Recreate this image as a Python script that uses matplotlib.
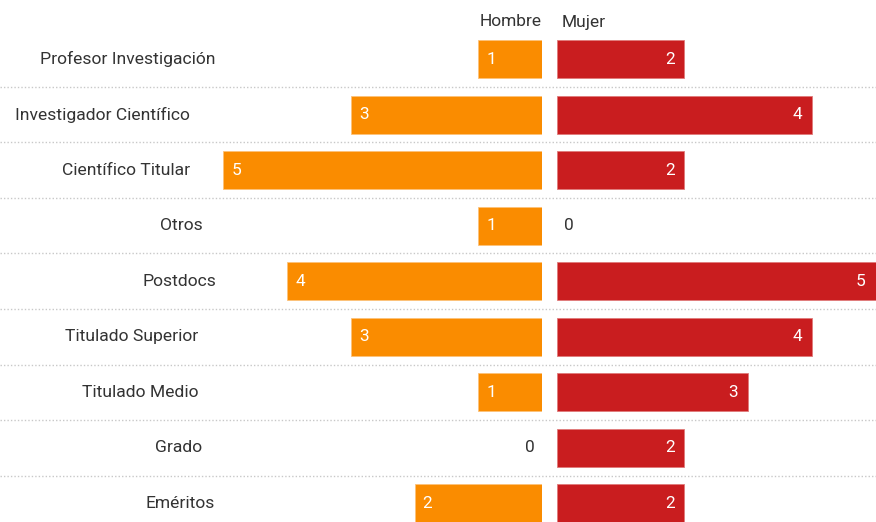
import matplotlib
matplotlib.use('Agg')
import matplotlib.pyplot as plt

# datos
categorias = ["Profesor Investigación", "Investigador Científico", "Científico Titular",
              "Otros", "Postdocs", "Titulado Superior", "Titulado Medio", "Grado", "Eméritos"]
hombres = [1, 3, 5, 1, 4, 3, 1, 0, 2]
mujeres = [2, 4, 2, 0, 5, 4, 3, 2, 2]

# centro horizontal (px) de cada etiqueta, como en el original
label_x = [128, 102, 126, 181, 179, 132, 140, 179, 180]

plt.rcParams['font.family'] = ['Roboto', 'DejaVu Sans']
NARANJA = '#fa8c00'
ROJO = '#c91d1f'
TEXTO = '#333333'

W, H = 876, 522
fig = plt.figure(figsize=(W / 100, H / 100), dpi=100)

PX = 63.7          # px por unidad
top_px = 31.25
ylim = ((H - 59.5) / 55.5, -0.5)
ax_b = (0, 1 - top_px / H)
n = len(categorias)

# fondo: separadores y etiquetas
bg = fig.add_axes([0, ax_b[0], 1, ax_b[1]])
bg.set_xlim(0, W)
bg.set_ylim(*ylim)
bg.axis('off')
for i in range(n - 1):
    bg.axhline(i + 0.5, color='#c8c8c8', lw=1, ls=(0, (1, 1.5)))
for i, cat in enumerate(categorias):
    bg.text(label_x[i], i, cat, ha='center', va='center', fontsize=12.6, color=TEXTO)

# eje izquierdo (hombres)
left_w = 542
axl = fig.add_axes([0, ax_b[0], left_w / W, ax_b[1]])
axl.set_xlim(left_w / PX, 0)
axl.set_ylim(*ylim)
axl.axis('off')
for i, v in enumerate(hombres):
    if v > 0:
        axl.barh(i, v, height=0.685, color=NARANJA, edgecolor='#fcc27a', linewidth=0.6)
        axl.text(v - 8 / PX, i, str(v), ha='left', va='center', color='white', fontsize=12.4)
    else:
        axl.text(7 / PX, i, str(v), ha='right', va='center', color=TEXTO, fontsize=12.4)

# eje derecho (mujeres)
rx = 557
axr = fig.add_axes([rx / W, ax_b[0], (W - rx) / W, ax_b[1]])
axr.set_xlim(0, (W - rx) / PX)
axr.set_ylim(*ylim)
axr.axis('off')
for i, v in enumerate(mujeres):
    if v > 0:
        axr.barh(i, v, height=0.685, color=ROJO, edgecolor='#e07a7a', linewidth=0.6)
        axr.text(v - 10 / PX, i, str(v), ha='right', va='center', color='white', fontsize=12.4)
    else:
        axr.text(7 / PX, i, str(v), ha='left', va='center', color=TEXTO, fontsize=12.4)

# cabeceras
fig.text(542 / W, 1 - 22 / H, "Hombre", ha='right', va='center', fontsize=12.5, color=TEXTO)
fig.text(562 / W, 1 - 22 / H, "Mujer", ha='left', va='center', fontsize=12.5, color=TEXTO)

fig.savefig('out.png', dpi=100)
